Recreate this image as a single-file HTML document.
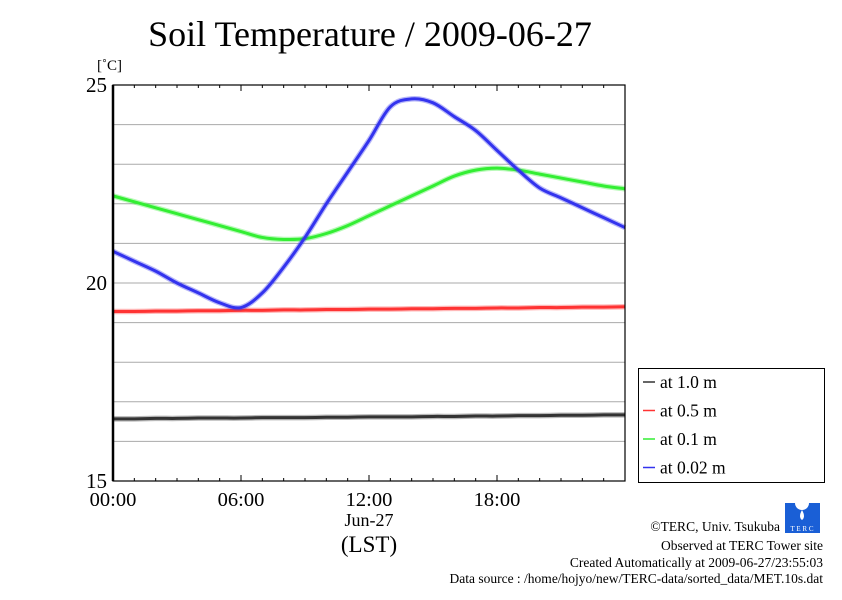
<!DOCTYPE html>
<html><head><meta charset="utf-8"><style>
body{margin:0;background:#fff}
svg text{font-family:"Liberation Serif",serif;fill:#000}
</style></head><body>
<svg id="c" width="842" height="595">
<text x="370" y="46" font-size="36" text-anchor="middle">Soil Temperature / 2009-06-27</text>
<text x="97" y="70" font-size="15">[˚C]</text>
<g id="grid"></g><g id="series"></g><g id="axes"></g>
<text x="369" y="526" font-size="18" text-anchor="middle">Jun-27</text>
<text x="369" y="552" font-size="23" text-anchor="middle">(LST)</text>
<g>
<rect x="638.5" y="368.5" width="186" height="114" fill="#fff" stroke="#000"/>
<g id="leg"></g>
</g>
<g>
<rect x="785" y="503" width="35" height="30" fill="#1a5fd6"/>
<circle cx="802" cy="503" r="7" fill="#fff"/>
<path d="M802 510 q-4 7 0 10 q4 -3 0 -10z" fill="#fff"/>
<text x="802" y="531" font-size="7" text-anchor="middle" style="fill:#fff">T E R C</text>
</g>
<g font-size="13.5" text-anchor="end">
<text x="780" y="531">©TERC, Univ. Tsukuba</text>
<text x="823" y="550">Observed at TERC Tower site</text>
<text x="823" y="567">Created Automatically at 2009-06-27/23:55:03</text>
<text x="823" y="583">Data source : /home/hojyo/new/TERC-data/sorted_data/MET.10s.dat</text>
</g>
</svg>
<script>
const hours=[0,1,2,3,4,5,6,7,8,9,10,11,12,13,14,15,16,17,18,19,20,21,22,23,24];
const t100=[16.57,16.57,16.58,16.58,16.59,16.59,16.59,16.6,16.6,16.6,16.61,16.61,16.62,16.62,16.62,16.63,16.63,16.64,16.64,16.65,16.65,16.66,16.66,16.67,16.67];
const t050=[19.28,19.28,19.29,19.29,19.3,19.3,19.31,19.31,19.32,19.32,19.33,19.33,19.34,19.34,19.35,19.35,19.36,19.36,19.37,19.37,19.38,19.38,19.39,19.39,19.4];
const t010=[22.2,22.05,21.9,21.75,21.6,21.45,21.3,21.15,21.1,21.12,21.25,21.45,21.7,21.95,22.2,22.45,22.7,22.85,22.9,22.85,22.75,22.65,22.55,22.45,22.38];
const t002=[20.8,20.55,20.3,20.0,19.75,19.5,19.38,19.75,20.4,21.15,22.0,22.8,23.6,24.45,24.65,24.55,24.2,23.85,23.35,22.85,22.4,22.15,21.9,21.65,21.4];
const yTicks=[15,20,25];
const xTicks=["00:00","06:00","12:00","18:00"];
const legendLabels=["at 1.0 m","at 0.5 m","at 0.1 m","at 0.02 m"];
const NS="http://www.w3.org/2000/svg";
const L=113,R=625,T=85,B=481;
const X=h=>L+(R-L)*h/24, Y=v=>B-(B-T)*(v-15)/10;
function mk(tag,attrs,parent){const e=document.createElementNS(NS,tag);for(const k in attrs)e.setAttribute(k,attrs[k]);parent.appendChild(e);return e;}
function smooth(p){let d='M'+p[0][0]+','+p[0][1];for(let i=0;i<p.length-1;i++){const p0=p[i-1]||p[i],p1=p[i],p2=p[i+1],p3=p[i+2]||p2;
const c1=[p1[0]+(p2[0]-p0[0])/6,p1[1]+(p2[1]-p0[1])/6],c2=[p2[0]-(p3[0]-p1[0])/6,p2[1]-(p3[1]-p1[1])/6];
d+=' C'+c1+' '+c2+' '+p2;}return d;}
const grid=document.getElementById('grid'),axes=document.getElementById('axes'),ser=document.getElementById('series'),leg=document.getElementById('leg');
for(let v=16;v<25;v++){const g=mk('line',{x1:L,x2:R,y1:Y(v),y2:Y(v),stroke:'#aaa','stroke-width':1},grid);

}
const frame=mk('rect',{x:L,y:T,width:R-L,height:B-T,fill:'none',stroke:'#000','stroke-width':1.2},axes);


mk('line',{x1:L,x2:L,y1:T,y2:B,stroke:'#000','stroke-width':2.5},axes);
for(let h=1;h<24;h++){const len=h%6===0?6:3;
mk('line',{x1:X(h),x2:X(h),y1:T,y2:T+len,stroke:'#000'},axes);
mk('line',{x1:X(h),x2:X(h),y1:B,y2:B-len,stroke:'#000'},axes);}
yTicks.forEach(v=>{const t=mk('text',{x:L-6,y:Y(v)+7,'font-size':21,'text-anchor':'end'},axes);t.textContent=v;

});
xTicks.forEach((s,i)=>{const t=mk('text',{x:X(i*6),y:B+25,'font-size':20.5,'text-anchor':'middle'},axes);t.textContent=s;

});
const series=[[t100,'#333','series-1m'],[t050,'#f33','series-0-5m'],[t010,'#3e3','series-0-1m'],[t002,'#33e','series-0-02m']];
series.forEach(([d,c,n])=>{const pts=smooth(d.map((v,i)=>[X(hours[i]),Y(v)]));
mk('path',{d:pts,fill:'none',stroke:c,'stroke-width':5.5,'stroke-opacity':0.35},ser);
const p=mk('path',{d:pts,fill:'none',stroke:c,'stroke-width':3},ser);

});
legendLabels.forEach((s,i)=>{const y=382+i*28.5;
mk('line',{x1:643,x2:655,y1:y,y2:y,stroke:series[i][1],'stroke-width':1.5},leg);
const t=mk('text',{x:660,y:y+6,'font-size':17.5},leg);t.textContent=s;

});
</script>
</body></html>
